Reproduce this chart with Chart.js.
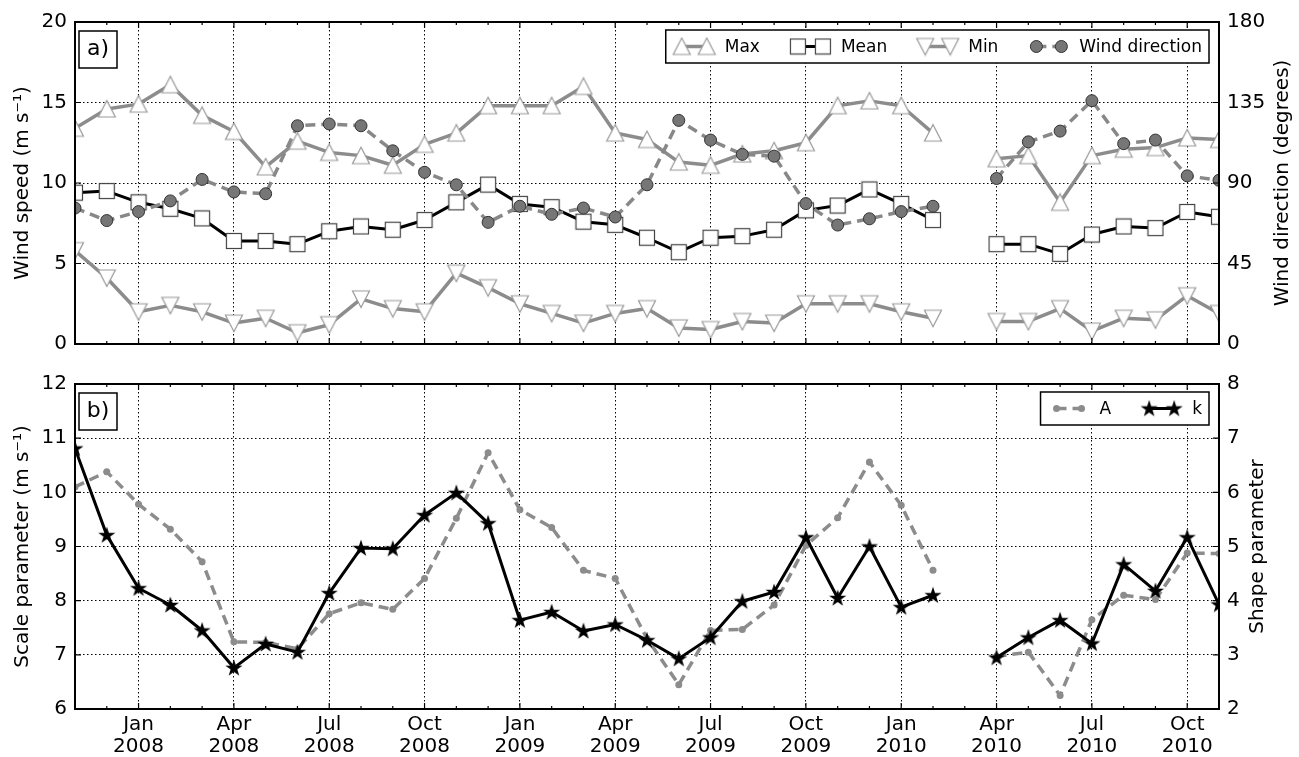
<!DOCTYPE html>
<html>
<head>
<meta charset="utf-8">
<script src="https://cdn.jsdelivr.net/npm/chart.js@4.4.0/dist/chart.umd.min.js"></script>
<style>
    html, body { margin: 0; padding: 0; background: #fff; }
    #wrap { position: relative; width: 1299px; height: 757px; }
    .panel { position: absolute; left: 0; width: 1299px; }
    #p1 { top: 0; height: 364px; }
    #p2 { top: 364px; height: 393px; }
</style>
</head>
<body>
<div id="wrap">
    <div class="panel" id="p1"><canvas id="speedChart"></canvas></div>
    <div class="panel" id="p2"><canvas id="weibullChart"></canvas></div>
</div>
<script>
// Monthly wind statistics (panel a) and Weibull fit parameters (panel b)

const months = [
    'Nov 2007', 'Dec 2007',
    'Jan 2008', 'Feb 2008', 'Mar 2008', 'Apr 2008', 'May 2008', 'Jun 2008',
    'Jul 2008', 'Aug 2008', 'Sep 2008', 'Oct 2008', 'Nov 2008', 'Dec 2008',
    'Jan 2009', 'Feb 2009', 'Mar 2009', 'Apr 2009', 'May 2009', 'Jun 2009',
    'Jul 2009', 'Aug 2009', 'Sep 2009', 'Oct 2009', 'Nov 2009', 'Dec 2009',
    'Jan 2010', 'Feb 2010', 'Mar 2010', 'Apr 2010', 'May 2010', 'Jun 2010',
    'Jul 2010', 'Aug 2010', 'Sep 2010', 'Oct 2010', 'Nov 2010'
];
const majorMonths = ['Jan', 'Apr', 'Jul', 'Oct'];

// panel a) wind speed (m/s) and direction (degrees); Mar 2010 missing
const maxSpeed = [13.4, 14.6, 14.9, 16.1, 14.2, 13.2, 11.0, 12.6, 11.9, 11.7, 11.1, 12.4, 13.1, 14.8, 14.8, 14.8, 16.0, 13.1, 12.7,
    11.3, 11.1, 11.8, 12.0, 12.5, 14.8, 15.1, 14.8, 13.1, null, 11.5, 11.7, 8.8, 11.7, 12.1, 12.2, 12.8, 12.7];
const meanSpeed = [9.4, 9.5, 8.8, 8.4, 7.8, 6.4, 6.4, 6.2, 7.0, 7.3, 7.1, 7.7, 8.8, 9.9, 8.7, 8.5, 7.6, 7.4, 6.6,
    5.7, 6.6, 6.7, 7.1, 8.3, 8.6, 9.6, 8.7, 7.7, null, 6.2, 6.2, 5.6, 6.8, 7.3, 7.2, 8.2, 7.9];
const minSpeed = [5.8, 4.1, 2.0, 2.4, 2.0, 1.3, 1.6, 0.7, 1.2, 2.8, 2.2, 2.0, 4.4, 3.5, 2.5, 1.9, 1.3, 1.9, 2.2,
    1.0, 0.9, 1.4, 1.3, 2.5, 2.5, 2.5, 2.0, 1.6, null, 1.4, 1.4, 2.2, 0.8, 1.6, 1.5, 3.0, 1.9];
const windDir = [76, 69, 74, 80, 92, 85, 84, 122, 123, 122, 108, 96, 89, 68, 77, 72.5, 76, 71, 89,
    125, 114, 106, 105, 78.5, 66.5, 70, 74, 77, null, 92.5, 113, 119, 136, 112, 114, 94, 91.5];

// panel b) scale parameter A (m/s) and shape parameter k
const scaleA = [10.1, 10.38, 9.78, 9.32, 8.72, 7.24, 7.23, 7.11, 7.76, 7.96, 7.84, 8.41, 9.52, 10.73, 9.68, 9.35, 8.56, 8.41, 7.3,
    6.45, 7.45, 7.47, 7.92, 9.02, 9.53, 10.56, 9.76, 8.56, null, 6.97, 7.05, 6.25, 7.65, 8.1, 8.02, 8.88, 8.87];
const shapeK = [6.81, 5.21, 4.23, 3.92, 3.45, 2.76, 3.2, 3.05, 4.14, 4.97, 4.96, 5.58, 5.99, 5.43, 3.64, 3.79, 3.44, 3.56, 3.27,
    2.93, 3.32, 3.99, 4.16, 5.17, 4.05, 5.0, 3.88, 4.1, null, 2.95, 3.32, 3.64, 3.21, 4.67, 4.18, 5.17, 3.93];

Chart.defaults.font.family = '"DejaVu Sans", sans-serif';
Chart.defaults.color = '#000';
Chart.defaults.animation = false;

const FONT = 20;
const GRID_DASH = [1.5, 2.5];
const isMajor = i => majorMonths.includes(months[i].slice(0, 3));

// matplotlib-like marker bitmaps
function makeMarker(size, draw) {
    const c = document.createElement('canvas');
    c.width = c.height = size;
    draw(c.getContext('2d'), size);
    return c;
}
const triUp = makeMarker(20, g => {
    g.beginPath(); g.moveTo(10, 1.5); g.lineTo(18.5, 18); g.lineTo(1.5, 18); g.closePath();
    g.fillStyle = '#fff'; g.fill(); g.strokeStyle = '#999'; g.lineWidth = 1.2; g.stroke();
});
const triDown = makeMarker(20, g => {
    g.beginPath(); g.moveTo(10, 18.5); g.lineTo(18.5, 2); g.lineTo(1.5, 2); g.closePath();
    g.fillStyle = '#fff'; g.fill(); g.strokeStyle = '#999'; g.lineWidth = 1.2; g.stroke();
});
const square = makeMarker(18, g => {
    g.fillStyle = '#fff'; g.fillRect(1.5, 1.5, 15, 15);
    g.strokeStyle = '#444'; g.lineWidth = 1.2; g.strokeRect(1.5, 1.5, 15, 15);
});
const star = makeMarker(20, g => {
    g.beginPath();
    for (let j = 0; j < 10; j++) {
        const r = j % 2 ? 3.5 : 9;
        const a = -Math.PI / 2 + j * Math.PI / 5;
        g.lineTo(10 + r * Math.cos(a), 10.5 + r * Math.sin(a));
    }
    g.closePath(); g.fillStyle = '#000'; g.fill();
});

function xAxis(showLabels) {
    return {
        type: 'category',
        offset: false,
        grid: { offset: false, drawTicks: false, color: '#000', lineWidth: c => isMajor(c.index) ? 1 : 0 },
        border: { display: false, dash: GRID_DASH },
        ticks: {
            display: showLabels, autoSkip: false, maxRotation: 0, padding: 5,
            font: { size: FONT, lineHeight: 1.1 },
            callback: (v, i) => isMajor(i) ? [months[i].slice(0, 3), months[i].slice(4)] : ''
        },
        afterFit: s => { s.height = showLabels ? 48 : 0; }
    };
}
function leftAxis(min, max, step, title) {
    return {
        position: 'left', min: min, max: max,
        ticks: { stepSize: step, padding: 8, font: { size: FONT } },
        grid: { drawTicks: false, color: '#000', lineWidth: 1 },
        border: { display: false, dash: GRID_DASH },
        title: { display: true, text: title, font: { size: FONT }, padding: { top: 11, bottom: 0 } },
        afterFit: s => { s.width = 75; }
    };
}
function rightAxis(min, max, step) {
    return {
        position: 'right', min: min, max: max,
        ticks: { stepSize: step, padding: 8, font: { size: FONT } },
        grid: { drawOnChartArea: false, drawTicks: false },
        border: { display: false },
        afterFit: s => { s.width = 80; }
    };
}

function drawMarker(ctx, ds, x, y) {
    if (typeof ds.pointStyle === 'object') {
        ctx.drawImage(ds.pointStyle, x - ds.pointStyle.width / 2, y - ds.pointStyle.height / 2);
        return;
    }
    ctx.beginPath();
    ctx.arc(x, y, ds.pointRadius, 0, Math.PI * 2);
    ctx.fillStyle = ds.pointBackgroundColor;
    ctx.fill();
    if (ds.pointBorderWidth) {
        ctx.lineWidth = ds.pointBorderWidth;
        ctx.strokeStyle = ds.pointBorderColor;
        ctx.stroke();
    }
}

// frame, inward ticks, panel tag, right title and legend
function panelDecor(cfg) {
    return {
        id: 'decor',
        afterDraw(chart) {
            const { ctx, chartArea: a, scales } = chart;
            ctx.save();
            ctx.strokeStyle = '#000';
            ctx.lineWidth = 1.2;
            ctx.beginPath();
            scales.x.ticks.forEach((t, i) => {
                const px = scales.x.getPixelForTick(i);
                const len = isMajor(i) ? 6 : 3;
                ctx.moveTo(px, a.bottom); ctx.lineTo(px, a.bottom - len);
                ctx.moveTo(px, a.top); ctx.lineTo(px, a.top + len);
            });
            scales.y.ticks.forEach(t => {
                const py = scales.y.getPixelForValue(t.value);
                ctx.moveTo(a.left, py); ctx.lineTo(a.left + 6, py);
            });
            scales.y2.ticks.forEach(t => {
                const py = scales.y2.getPixelForValue(t.value);
                ctx.moveTo(a.right, py); ctx.lineTo(a.right - 6, py);
            });
            ctx.stroke();
            ctx.lineWidth = 2;
            ctx.strokeRect(a.left, a.top, a.right - a.left, a.bottom - a.top);

            // right axis title (reads bottom to top)
            ctx.save();
            ctx.translate(cfg.rightTitleX, (a.top + a.bottom) / 2);
            ctx.rotate(-Math.PI / 2);
            ctx.font = FONT + 'px "DejaVu Sans"';
            ctx.fillStyle = '#000';
            ctx.textAlign = 'center';
            ctx.textBaseline = 'middle';
            ctx.fillText(cfg.rightTitle, 0, 0);
            ctx.restore();

            // panel tag
            ctx.lineWidth = 1.5;
            ctx.fillStyle = '#fff';
            ctx.fillRect(a.left + 4, a.top + 9, 38, 37);
            ctx.strokeRect(a.left + 4, a.top + 9, 38, 37);
            ctx.fillStyle = '#000';
            ctx.font = '22px "DejaVu Sans"';
            ctx.textAlign = 'center';
            ctx.textBaseline = 'middle';
            ctx.fillText(cfg.tag, a.left + 23, a.top + 27);

            // legend
            ctx.font = '17px "DejaVu Sans"';
            ctx.textAlign = 'left';
            const dsets = chart.data.datasets;
            const entries = cfg.legend.map(lbl => dsets.find(d => d.label === lbl));
            const widths = entries.map(d => 43 + ctx.measureText(d.label).width);
            const boxW = 16 + widths.reduce((s, w) => s + w, 0) + 38 * (entries.length - 1) + 7;
            const boxH = 33;
            const bx = a.right - 10 - boxW;
            const by = a.top + 8;
            ctx.fillStyle = '#fff';
            ctx.fillRect(bx, by, boxW, boxH);
            ctx.lineWidth = 1.5;
            ctx.strokeStyle = '#000';
            ctx.strokeRect(bx, by, boxW, boxH);
            const cy = by + boxH / 2;
            let x = bx + 16;
            entries.forEach((d, k) => {
                ctx.save();
                ctx.strokeStyle = d.borderColor;
                ctx.lineWidth = d.borderWidth;
                ctx.setLineDash(d.borderDash || []);
                ctx.beginPath(); ctx.moveTo(x, cy); ctx.lineTo(x + 25, cy); ctx.stroke();
                ctx.restore();
                drawMarker(ctx, d, x, cy);
                drawMarker(ctx, d, x + 25, cy);
                ctx.fillStyle = '#000';
                ctx.fillText(d.label, x + 43, cy + 1);
                x += widths[k] + 38;
            });
            ctx.restore();
        }
    };
}

const common = {
    responsive: true,
    maintainAspectRatio: false,
    devicePixelRatio: 1,
    events: [],
    plugins: { legend: { display: false }, tooltip: { enabled: false } }
};

// Panel a) wind speed / direction
new Chart(document.getElementById('speedChart'), {
    type: 'line',
    data: {
        labels: months,
        datasets: [
            {
                label: 'Wind direction', data: windDir, yAxisID: 'y2', order: 0, clip: 0,
                borderColor: '#888', borderWidth: 3.5, borderDash: [10, 6],
                pointStyle: 'circle', pointRadius: 6, pointBackgroundColor: '#767676',
                pointBorderColor: '#333', pointBorderWidth: 1
            },
            {
                label: 'Min', data: minSpeed, yAxisID: 'y', order: 1, clip: 0,
                borderColor: '#8c8c8c', borderWidth: 3.5, borderJoinStyle: 'round',
                pointStyle: triDown, pointRadius: 8
            },
            {
                label: 'Mean', data: meanSpeed, yAxisID: 'y', order: 2, clip: 0,
                borderColor: '#000', borderWidth: 3, borderJoinStyle: 'round',
                pointStyle: square, pointRadius: 8
            },
            {
                label: 'Max', data: maxSpeed, yAxisID: 'y', order: 3, clip: 0,
                borderColor: '#8c8c8c', borderWidth: 3.5, borderJoinStyle: 'round',
                pointStyle: triUp, pointRadius: 8
            }
        ]
    },
    options: Object.assign({}, common, {
        layout: { padding: { top: 22, bottom: 13, left: 0, right: 0 } },
        scales: {
            x: xAxis(false),
            y: leftAxis(0, 20, 5, 'Wind speed (m s\u207B\u00B9)'),
            y2: rightAxis(0, 180, 45)
        }
    }),
    plugins: [panelDecor({
        tag: 'a)', rightTitle: 'Wind direction (degrees)', rightTitleX: 1283,
        legend: ['Max', 'Mean', 'Min', 'Wind direction']
    })]
});

// Panel b) Weibull scale / shape parameters
new Chart(document.getElementById('weibullChart'), {
    type: 'line',
    data: {
        labels: months,
        datasets: [
            {
                label: 'k', data: shapeK, yAxisID: 'y2', order: 0, clip: 0,
                borderColor: '#000', borderWidth: 3, borderJoinStyle: 'round',
                pointStyle: star, pointRadius: 8
            },
            {
                label: 'A', data: scaleA, yAxisID: 'y', order: 1, clip: 0,
                borderColor: '#8c8c8c', borderWidth: 3.5, borderDash: [10, 6],
                pointStyle: 'circle', pointRadius: 3.5, pointBackgroundColor: '#8c8c8c',
                pointBorderColor: '#8c8c8c', pointBorderWidth: 0
            }
        ]
    },
    options: Object.assign({}, common, {
        layout: { padding: { top: 14, bottom: 0, left: 0, right: 0 } },
        scales: {
            x: xAxis(true),
            y: leftAxis(6, 12, 1, 'Scale parameter (m s\u207B\u00B9)'),
            y2: rightAxis(2, 8, 1)
        }
    }),
    plugins: [panelDecor({
        tag: 'b)', rightTitle: 'Shape parameter', rightTitleX: 1258,
        legend: ['A', 'k']
    })]
});
</script>
</body>
</html>
